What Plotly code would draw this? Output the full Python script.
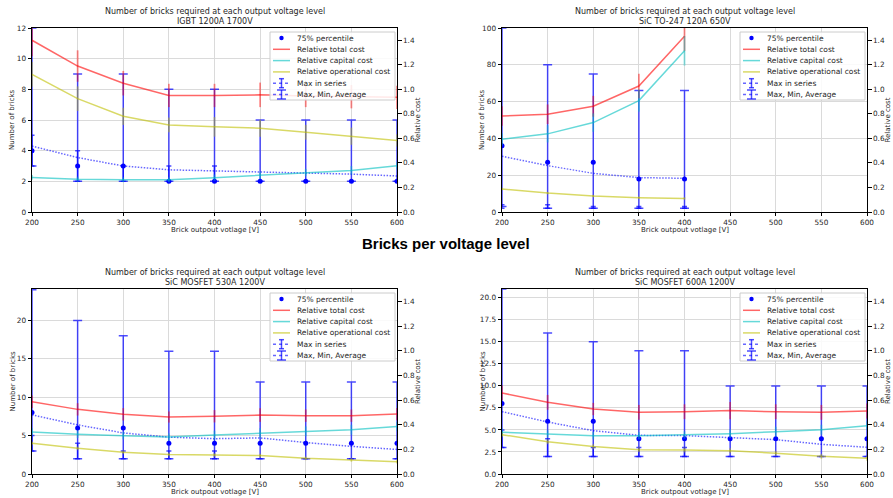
import plotly.graph_objects as go

W, H = 893, 498

# ---------------- data ----------------
voltage = [200, 250, 300, 350, 400, 450, 500, 550, 600]
voltage_to247 = [200, 250, 300, 350, 400]

# IGBT 1200A 1700V
igbt_p75 = [4, 3, 3, 2, 2, 2, 2, 2, 2]
igbt_max = [12, 9, 9, 8, 8, 6, 6, 6, 6]
igbt_min = [3, 2, 2, 2, 2, 2, 2, 2, 2]
igbt_avg = [4.3, 3.55, 3.0, 2.75, 2.68, 2.62, 2.55, 2.47, 2.35]
igbt_ser_lo = [3, 2, 2, 2, 2, 2, 2, 2, 2]
igbt_ser_hi = [5, 4, 3, 3, 3, 2, 2, 2, 2]
igbt_total = [1.40, 1.19, 1.05, 0.95, 0.95, 0.955, 0.945, 0.94, 0.935]
igbt_total_err = [0.13, 0.128, 0.10, 0.095, 0.095, 0.10, 0.09, 0.095, 0.095]
igbt_capital = [0.282, 0.268, 0.263, 0.263, 0.28, 0.298, 0.322, 0.339, 0.377]
igbt_capital_err = [0.02, 0.02, 0.02, 0.02, 0.025, 0.03, 0.03, 0.035, 0.03]
igbt_oper = [1.122, 0.924, 0.78, 0.71, 0.694, 0.683, 0.65, 0.618, 0.583]
igbt_oper_err = [0.1, 0.1, 0.07, 0.06, 0.08, 0.07, 0.06, 0.07, 0.05]

# SiC TO-247 120A 650V
to_p75 = [36, 27, 27, 18, 18]
to_max = [100, 80, 75, 66, 66]
to_min = [3, 2, 2, 2, 2]
to_avg = [30.3, 25.2, 21.0, 18.7, 18.3]
to_ser_lo = [2, 2, 2, 2, 2]
to_ser_hi = [4, 4, 3, 3, 3]
to_total = [0.783, 0.797, 0.862, 1.027, 1.433]
to_total_err = [0.08, 0.08, 0.085, 0.10, 0.12]
to_capital = [0.593, 0.637, 0.729, 0.908, 1.314]
to_capital_err = [0.05, 0.07, 0.075, 0.09, 0.12]
to_oper = [0.187, 0.154, 0.13, 0.117, 0.111]
to_oper_err = [0.01, 0.01, 0.01, 0.01, 0.01]

# SiC MOSFET 530A 1200V
m530_p75 = [8, 6, 6, 4, 4, 4, 4, 4, 4]
m530_max = [24, 20, 18, 16, 16, 12, 12, 12, 12]
m530_min = [3, 2, 2, 2, 2, 2, 2, 2, 2]
m530_avg = [7.7, 6.4, 5.35, 4.8, 4.6, 4.7, 4.1, 3.6, 3.2]
m530_ser_lo = [3, 2, 2, 2, 2, 2, 2, 2, 2]
m530_ser_hi = [5, 4, 3, 3, 3, 2, 2, 2, 2]
m530_total = [0.586, 0.524, 0.484, 0.462, 0.468, 0.478, 0.473, 0.473, 0.486]
m530_total_err = [0.05, 0.05, 0.05, 0.045, 0.05, 0.055, 0.05, 0.05, 0.05]
m530_capital = [0.341, 0.322, 0.311, 0.300, 0.316, 0.332, 0.346, 0.359, 0.386]
m530_capital_err = [0.03, 0.03, 0.03, 0.03, 0.035, 0.04, 0.04, 0.04, 0.035]
m530_oper = [0.249, 0.208, 0.176, 0.159, 0.154, 0.149, 0.127, 0.114, 0.100]
m530_oper_err = [0.015, 0.015, 0.015, 0.015, 0.015, 0.015, 0.015, 0.015, 0.015]

# SiC MOSFET 600A 1200V
m600_p75 = [8, 6, 6, 4, 4, 4, 4, 4, 4]
m600_max = [21, 16, 15, 14, 14, 10, 10, 10, 10]
m600_min = [3, 2, 2, 2, 2, 2, 2, 2, 2]
m600_avg = [7.08, 5.9, 4.92, 4.39, 4.36, 4.17, 3.9, 3.37, 3.03]
m600_ser_lo = [3, 2, 2, 2, 2, 2, 2, 2, 2]
m600_ser_hi = [5, 4, 3, 3, 3, 2, 2, 2, 2]
m600_total = [0.657, 0.581, 0.527, 0.50, 0.505, 0.514, 0.505, 0.50, 0.511]
m600_total_err = [0.06, 0.06, 0.05, 0.06, 0.06, 0.07, 0.06, 0.06, 0.06]
m600_capital = [0.338, 0.324, 0.311, 0.311, 0.316, 0.327, 0.343, 0.359, 0.392]
m600_capital_err = [0.03, 0.03, 0.03, 0.03, 0.03, 0.035, 0.04, 0.04, 0.035]
m600_oper = [0.319, 0.262, 0.222, 0.197, 0.195, 0.189, 0.168, 0.143, 0.127]
m600_oper_err = [0.02, 0.02, 0.02, 0.02, 0.02, 0.02, 0.02, 0.02, 0.02]

legend_labels = ["75% percentile", "Relative total cost", "Relative capital cost",
                 "Relative operational cost", "Max in series", "Max, Min, Average"]
main_title = "Number of bricks required at each output voltage level"
x_label = "Brick outpout votlage [V]"
y_label = "Number of bricks"
y2_label = "Relative cost"
fig_heading = "Bricks per voltage level"

# ---------------- styles ----------------
FONT = "DejaVu Sans"
TXT = "#262626"
BLUE = "#0000ff"
BAR_BLUE = "rgba(0,0,255,0.7)"
DOT_BLUE = "rgba(0,0,255,0.6)"
RED = "rgba(255,0,0,0.6)"
CYAN = "rgba(0,191,191,0.6)"
OLIVE = "rgba(191,191,0,0.6)"
RED_E = "rgba(255,0,0,0.45)"
CYAN_E = "rgba(0,191,191,0.45)"
OLIVE_E = "rgba(191,191,0,0.45)"
GRID = "#dadada"

panels = [
    dict(sub="IGBT 1200A 1700V", x=voltage, p75=igbt_p75, mx=igbt_max, mn=igbt_min,
         avg=igbt_avg, slo=igbt_ser_lo, shi=igbt_ser_hi,
         tot=igbt_total, tote=igbt_total_err, cap=igbt_capital, cape=igbt_capital_err,
         op=igbt_oper, ope=igbt_oper_err,
         yr=[0, 12], dt=2, fmt="d", box=(32, 397, 28, 212)),
    dict(sub="SiC TO-247 120A 650V", x=voltage_to247, p75=to_p75, mx=to_max, mn=to_min,
         avg=to_avg, slo=to_ser_lo, shi=to_ser_hi,
         tot=to_total, tote=to_total_err, cap=to_capital, cape=to_capital_err,
         op=to_oper, ope=to_oper_err,
         yr=[0, 100], dt=20, fmt="d", box=(502, 867, 28, 212)),
    dict(sub="SiC MOSFET 530A 1200V", x=voltage, p75=m530_p75, mx=m530_max, mn=m530_min,
         avg=m530_avg, slo=m530_ser_lo, shi=m530_ser_hi,
         tot=m530_total, tote=m530_total_err, cap=m530_capital, cape=m530_capital_err,
         op=m530_oper, ope=m530_oper_err,
         yr=[0, 24.1], dt=5, fmt="d", box=(32, 397, 289, 474)),
    dict(sub="SiC MOSFET 600A 1200V", x=voltage, p75=m600_p75, mx=m600_max, mn=m600_min,
         avg=m600_avg, slo=m600_ser_lo, shi=m600_ser_hi,
         tot=m600_total, tote=m600_total_err, cap=m600_capital, cape=m600_capital_err,
         op=m600_oper, ope=m600_oper_err,
         yr=[0, 21], dt=2.5, fmt=".1f", box=(502, 867, 289, 474)),
]


def fx(x):
    return x / W


def fy(y):
    return 1 - y / H


fig = go.Figure()
layout = dict(width=W, height=H, margin=dict(l=0, r=0, t=0, b=0, autoexpand=False),
              paper_bgcolor="white", plot_bgcolor="white", showlegend=False,
              font=dict(family=FONT, size=7, color=TXT))
shapes = []
annotations = []

tickfont = dict(family=FONT, size=7.3, color=TXT)

for i, p in enumerate(panels):
    n = i + 1
    xa = "x" if n == 1 else f"x{n}"
    ya = "y" if n == 1 else f"y{n}"
    ya2 = f"y{n + 4}"
    l, r, t, b = p["box"]
    layout["xaxis" if n == 1 else f"xaxis{n}"] = dict(
        domain=[fx(l), fx(r)], anchor=ya, range=[200, 600], dtick=50, tick0=200,
        showgrid=True, gridcolor=GRID, gridwidth=1, zeroline=False, automargin=False,
        showline=True, linecolor="black", linewidth=1, mirror=True,
        ticks="outside", ticklen=3, tickwidth=0.8, tickcolor="black",
        tickfont=tickfont)
    layout["yaxis" if n == 1 else f"yaxis{n}"] = dict(
        domain=[fy(b), fy(t)], anchor=xa, range=p["yr"], dtick=p["dt"], tick0=0,
        tickformat=p["fmt"], showgrid=True, gridcolor=GRID, gridwidth=1, zeroline=False,
        showline=True, linecolor="black", linewidth=1, automargin=False,
        ticks="outside", ticklen=3.5, tickwidth=0.8, tickcolor="black",
        tickfont=tickfont)
    layout[f"yaxis{n + 4}"] = dict(
        overlaying=ya, anchor=xa, side="right", range=[0, 1.5], automargin=False,
        tickvals=[0, 0.2, 0.4, 0.6, 0.8, 1.0, 1.2, 1.4], tickformat=".1f",
        showgrid=False, zeroline=False, showline=True, linecolor="black", linewidth=1,
        ticks="outside", ticklen=3.5, tickwidth=0.8, tickcolor="black",
        tickfont=tickfont)

    xs = p["x"]
    # Max, Min, Average (dotted average with min-max bars)
    fig.add_trace(go.Scatter(
        x=xs, y=p["avg"], mode="lines", name=legend_labels[5],
        line=dict(color=DOT_BLUE, width=1.5, dash="1.5px,1.5px"),
        error_y=dict(type="data", symmetric=False,
                     array=[mx - a for mx, a in zip(p["mx"], p["avg"])],
                     arrayminus=[a - mn for a, mn in zip(p["avg"], p["mn"])],
                     color=BAR_BLUE, thickness=1.5, width=4.5),
        xaxis=xa, yaxis=ya))
    # Max in series
    fig.add_trace(go.Scatter(
        x=xs, y=p["slo"], mode="markers", name=legend_labels[4],
        marker=dict(color="rgba(0,0,0,0)", size=1),
        error_y=dict(type="data", symmetric=False,
                     array=[h - lo for h, lo in zip(p["shi"], p["slo"])],
                     arrayminus=[0] * len(xs),
                     color=BAR_BLUE, thickness=1.5, width=2.5),
        xaxis=xa, yaxis=ya))
    # 75% percentile
    fig.add_trace(go.Scatter(
        x=xs, y=p["p75"], mode="markers", name=legend_labels[0],
        marker=dict(color=BLUE, size=5), xaxis=xa, yaxis=ya))
    # Relative costs
    for key, ekey, col, ecol, lab in [("tot", "tote", RED, RED_E, legend_labels[1]),
                                      ("cap", "cape", CYAN, CYAN_E, legend_labels[2]),
                                      ("op", "ope", OLIVE, OLIVE_E, legend_labels[3])]:
        fig.add_trace(go.Scatter(
            x=xs, y=p[key], mode="lines", name=lab,
            line=dict(color=col, width=1.5),
            error_y=dict(type="data", array=p[ekey], color=ecol, thickness=1.8, width=0),
            xaxis=xa, yaxis=ya2))

    cx = (l + r) / 2
    cy = (t + b) / 2
    # titles
    annotations.append(dict(text=main_title, x=fx(cx), y=fy(t - 17), xref="paper", yref="paper",
                            showarrow=False, xanchor="center", yanchor="middle",
                            font=dict(family=FONT, size=8, color=TXT)))
    annotations.append(dict(text=p["sub"], x=fx(cx), y=fy(t - 6.3), xref="paper", yref="paper",
                            showarrow=False, xanchor="center", yanchor="middle",
                            font=dict(family=FONT, size=8, color=TXT)))
    annotations.append(dict(text=x_label, x=fx(cx), y=fy(b + 18), xref="paper", yref="paper",
                            showarrow=False, xanchor="center", yanchor="middle",
                            font=dict(family=FONT, size=7, color=TXT)))
    annotations.append(dict(text=y_label, x=fx(l - 20), y=fy(cy), xref="paper", yref="paper",
                            showarrow=False, xanchor="center", yanchor="middle", textangle=-90,
                            font=dict(family=FONT, size=7, color=TXT)))
    annotations.append(dict(text=y2_label, x=fx(r + 20.5), y=fy(cy), xref="paper", yref="paper",
                            showarrow=False, xanchor="center", yanchor="middle", textangle=-90,
                            font=dict(family=FONT, size=7, color=TXT)))

    # legend (drawn manually for compact matplotlib-like spacing)
    bx1 = r - 2
    bx0 = bx1 - 125
    by0 = t + 4
    by1 = by0 + 68
    shapes.append(dict(type="rect", xref="paper", yref="paper", x0=fx(bx0), x1=fx(bx1),
                       y0=fy(by1), y1=fy(by0), fillcolor="rgba(255,255,255,0.85)",
                       line=dict(color="#cccccc", width=1), layer="above"))
    sx0, sx1 = bx0 + 3, bx0 + 20
    sxc = (sx0 + sx1) / 2
    styles = [("dot", BLUE), ("line", RED), ("line", CYAN), ("line", OLIVE),
              ("err_s", BAR_BLUE), ("err_b", BAR_BLUE)]
    for k, (lab, (kind, col)) in enumerate(zip(legend_labels, styles)):
        ry = by0 + 6 + k * 11.3
        if kind == "dot":
            shapes.append(dict(type="circle", xref="paper", yref="paper",
                               x0=fx(sxc - 2.2), x1=fx(sxc + 2.2), y0=fy(ry + 2.2), y1=fy(ry - 2.2),
                               fillcolor=BLUE, line=dict(width=0), layer="above"))
        elif kind == "line":
            shapes.append(dict(type="line", xref="paper", yref="paper",
                               x0=fx(sx0), x1=fx(sx1), y0=fy(ry), y1=fy(ry),
                               line=dict(color=col, width=1.5), layer="above"))
        else:
            cw = 2.5 if kind == "err_s" else 4.5
            shapes.append(dict(type="line", xref="paper", yref="paper",
                               x0=fx(sx0), x1=fx(sx1), y0=fy(ry), y1=fy(ry),
                               line=dict(color=DOT_BLUE, width=1.5, dash="dot"), layer="above"))
            shapes.append(dict(type="line", xref="paper", yref="paper",
                               x0=fx(sxc), x1=fx(sxc), y0=fy(ry - 4.5), y1=fy(ry + 4.5),
                               line=dict(color=col, width=1.5), layer="above"))
            for yy in (ry - 4.5, ry + 4.5):
                shapes.append(dict(type="line", xref="paper", yref="paper",
                                   x0=fx(sxc - cw), x1=fx(sxc + cw), y0=fy(yy), y1=fy(yy),
                                   line=dict(color=col, width=1.5), layer="above"))
        annotations.append(dict(text=lab, x=fx(bx0 + 25), y=fy(ry), xref="paper", yref="paper",
                                showarrow=False, xanchor="left", yanchor="middle",
                                font=dict(family=FONT, size=7.5, color=TXT)))

annotations.append(dict(text="<b>" + fig_heading + "</b>", x=fx(446), y=fy(243), xref="paper",
                        yref="paper", showarrow=False, xanchor="center", yanchor="middle",
                        font=dict(family="Liberation Sans", size=15, color="black")))

layout["shapes"] = shapes
layout["annotations"] = annotations
fig.update_layout(**layout)
fig.write_html("out.html", config={"displayModeBar": False},
               post_script="document.body.style.margin='0px';document.body.style.overflow='hidden';")
